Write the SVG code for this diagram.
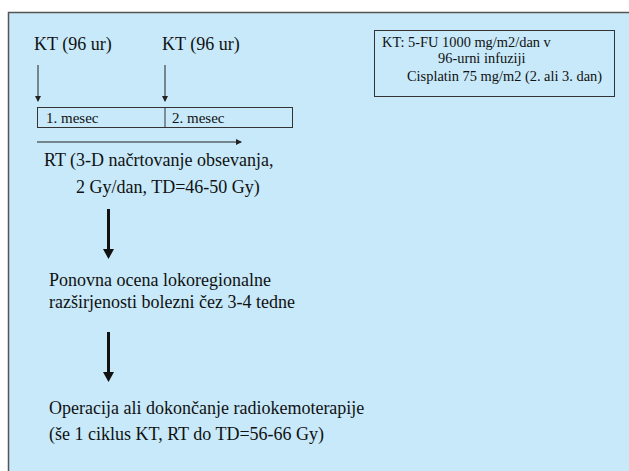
<svg xmlns="http://www.w3.org/2000/svg" width="629" height="471" viewBox="0 0 629 471" font-family="Liberation Serif, Times New Roman, serif">
<defs>
<style>
.t18{font-size:18px;fill:#111}
.tl{font-size:14.4px;fill:#111}
.tm{font-size:15px;fill:#111}
.thin{stroke:#222;stroke-width:1;fill:none}
.box{fill:none;stroke:#333;stroke-width:1}
.thick{stroke:#111;stroke-width:3}
.head{fill:#111}
</style>
<marker id="sm" markerWidth="6" markerHeight="6" refX="5" refY="3" orient="auto" markerUnits="userSpaceOnUse">
<path d="M0,0 L6,3 L0,6 Z" fill="#222"/>
</marker>
</defs>
<rect x="0" y="0" width="629" height="471" fill="#ffffff"/>
<rect x="8.5" y="12.5" width="630" height="470" fill="#c7e9f9" stroke="#555" stroke-width="1.5"/>

<g id="kt1"><text class="t18" x="34" y="50">KT (96 ur)</text></g>
<g id="kt2"><text class="t18" x="162" y="50">KT (96 ur)</text></g>

<g id="legend">
<rect class="box" x="374.5" y="30.5" width="240" height="66"/>
<text class="tl" x="382" y="47">KT: 5-FU 1000 mg/m2/dan v</text>
<text class="tl" x="438" y="63">96-urni infuziji</text>
<text class="tl" x="407" y="81">Cisplatin 75 mg/m2 (2. ali 3. dan)</text>
</g>

<g id="timeline">
<rect class="box" x="37.5" y="107.5" width="255" height="20"/>
<line class="box" x1="165" y1="107.5" x2="165" y2="127.5"/>
<text class="tm" x="46" y="123">1. mesec</text>
<text class="tm" x="172" y="123">2. mesec</text>
</g>

<g id="rt"><text class="t18" x="44" y="166">RT (3-D načrtovanje obsevanja,</text>
<text class="t18" x="76" y="193">2 Gy/dan, TD=46-50 Gy)</text></g>

<g id="ocena"><text class="t18" x="49" y="286">Ponovna ocena lokoregionalne</text>
<text class="t18" x="49" y="308">razširjenosti bolezni čez 3-4 tedne</text></g>

<g id="operacija"><text class="t18" x="49" y="414">Operacija ali dokončanje radiokemoterapije</text>
<text class="t18" x="49" y="440">(še 1 ciklus KT, RT do TD=56-66 Gy)</text></g>

<g id="connectors">
<line class="thin" x1="38" y1="65" x2="38" y2="101" marker-end="url(#sm)"/>
<line class="thin" x1="165" y1="65" x2="165" y2="101" marker-end="url(#sm)"/>
<line class="thin" x1="37" y1="142" x2="241" y2="142" marker-end="url(#sm)"/>
<line class="thick" x1="108.5" y1="209" x2="108.5" y2="250"/>
<path class="head" d="M103,249 L114,249 L108.5,259 Z"/>
<line class="thick" x1="108.5" y1="332" x2="108.5" y2="373"/>
<path class="head" d="M103,372 L114,372 L108.5,382 Z"/>
</g>
</svg>
